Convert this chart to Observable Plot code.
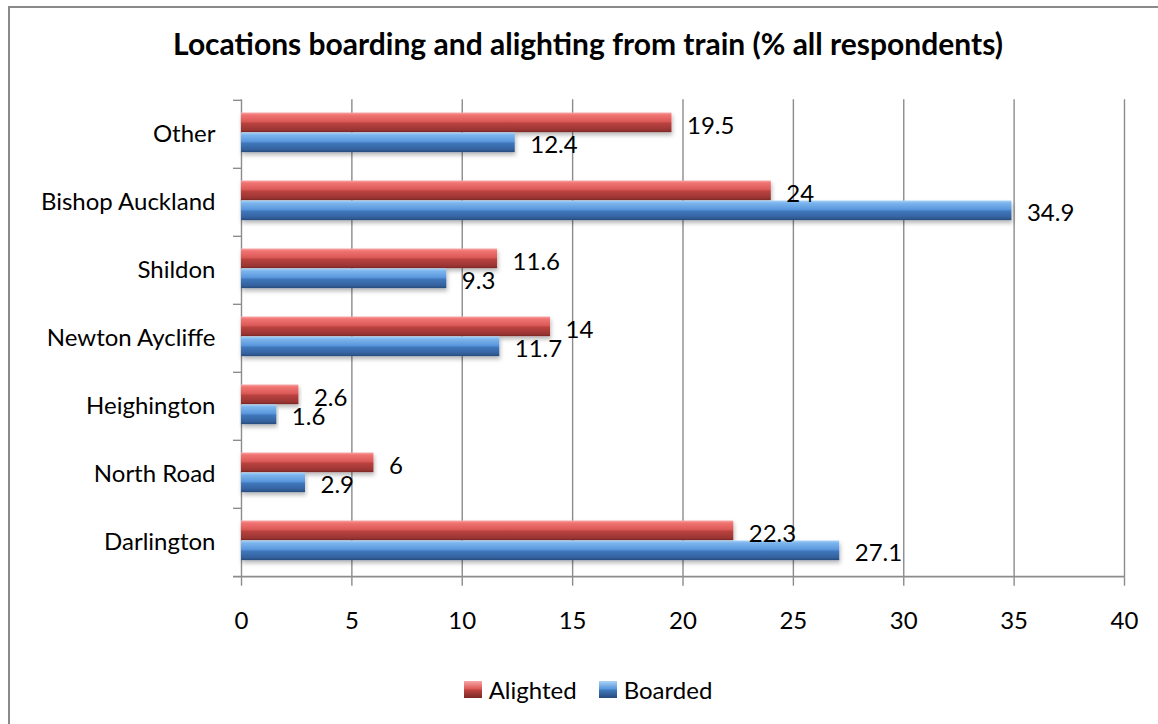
<!DOCTYPE html>
<html>
<head>
<meta charset="utf-8">
<script src="https://cdn.jsdelivr.net/npm/d3@7"></script>
<script src="https://cdn.jsdelivr.net/npm/@observablehq/plot@0.6"></script>
<style>
  body { margin: 0; background: #fff; font-family: Lato, "Open Sans", sans-serif; }
  #frame { position: absolute; left: 8px; top: 6px; width: 1160px; height: 740px; border: 2px solid #8a8a8a; box-sizing: border-box; }
  #title { position: absolute; left: 8px; width: 1160px; top: 25px; text-align: center; font: bold 30px Lato, sans-serif; color: #000; white-space: nowrap; }
  #chart { position: absolute; left: 0; top: 80px; }
  #legend { position: absolute; left: 8px; width: 1160px; top: 674px; text-align: center; font: 24px Lato, sans-serif; color: #000; }
  .item { display: inline-flex; align-items: center; margin: 0 11px; }
  .sw { width: 18px; height: 17px; margin-right: 7px; display: inline-block; }
</style>
</head>
<body>
<div id="frame"></div>
<div id="title">Locations boarding and alighting from train (% all respondents)</div>
<div id="chart"></div>
<div id="legend"></div>
<script>
const categories = ["Other", "Bishop Auckland", "Shildon", "Newton Aycliffe", "Heighington", "North Road", "Darlington"];
const alighted = [19.5, 24, 11.6, 14, 2.6, 6, 22.3];
const boarded = [12.4, 34.9, 9.3, 11.7, 1.6, 2.9, 27.1];
const seriesNames = ["Alighted", "Boarded"];
const xTicks = [0, 5, 10, 15, 20, 25, 30, 35, 40];

const rows = categories.map((c, i) => ({category: c, alighted: alighted[i], boarded: boarded[i]}));

const W = 1158, H = 570, mt = 19.3, mb = 72.3, ml = 241, mr = 34;
const step = (H - mt - mb) / categories.length;
const grid = "#8c8c8c";
const fs = 24;

const svg = Plot.plot({
  width: W,
  height: H,
  marginTop: mt,
  marginBottom: mb,
  marginLeft: ml,
  marginRight: mr,
  style: {fontFamily: "Lato, sans-serif", fontSize: fs + "px", color: "#000", background: "transparent", overflow: "visible"},
  x: {domain: [0, 40]},
  y: {domain: categories, padding: 0},
  marks: [
    Plot.ruleX(xTicks.filter(t => t > 0), {stroke: grid, strokeWidth: 1.4}),
    Plot.axisX({ticks: xTicks, tickSize: 8, tickPadding: 26, stroke: grid, strokeWidth: 1.4, fill: "#000", fontSize: fs, tickFormat: d => String(d), label: null}),
    Plot.axisY({tickSize: 0, tickPadding: 26, fill: "#000", fontSize: fs, label: null}),
    Plot.ruleX([0], {stroke: grid, strokeWidth: 1.4}),
    Plot.ruleY(categories, {y: d => d, x1: 0, x2: 0, dy: -step / 2, insetLeft: -8, stroke: grid, strokeWidth: 1.4}),
    Plot.ruleY([categories[categories.length - 1]], {y: d => d, x1: 0, x2: 40, dy: step / 2, insetLeft: -8, stroke: grid, strokeWidth: 1.6}),
    Plot.barX(rows, {y: "category", x: "alighted", fill: "url(#gradRed)", insetTop: 12.5, insetBottom: step - 32.5}),
    Plot.barX(rows, {y: "category", x: "boarded", fill: "url(#gradBlue)", insetTop: 32.5, insetBottom: step - 52.5}),
    Plot.text(rows, {y: "category", x: "alighted", text: d => String(d.alighted), dx: 15, dy: -8, textAnchor: "start", fill: "#000", fontSize: fs}),
    Plot.text(rows, {y: "category", x: "boarded", text: d => String(d.boarded), dx: 15, dy: 11, textAnchor: "start", fill: "#000", fontSize: fs})
  ]
});

const defs = d3.select(svg).insert("defs", ":first-child");
function grad(id, stops) {
  const g = defs.append("linearGradient").attr("id", id).attr("x1", 0).attr("y1", 0).attr("x2", 0).attr("y2", 1);
  stops.forEach(([o, c]) => g.append("stop").attr("offset", o).attr("stop-color", c));
}
grad("gradRed", [["0%", "#f7a9a8"], ["12%", "#f07472"], ["45%", "#dc5a57"], ["55%", "#b9423f"], ["88%", "#9b3533"], ["100%", "#7a2826"]]);
grad("gradBlue", [["0%", "#abd3f7"], ["12%", "#7db6ee"], ["45%", "#5b97dc"], ["55%", "#3f77bc"], ["88%", "#33609b"], ["100%", "#264a7a"]]);
const f = defs.append("filter").attr("id", "shadow").attr("x", "-5%").attr("y", "-30%").attr("width", "110%").attr("height", "180%");
f.append("feDropShadow").attr("dx", 1).attr("dy", 3).attr("stdDeviation", 2).attr("flood-color", "#000").attr("flood-opacity", 0.28);
d3.select(svg).selectAll('g[aria-label="bar"] rect').attr("filter", "url(#shadow)");

document.getElementById("chart").appendChild(svg);

const legendColors = {
  Alighted: "linear-gradient(to bottom, #f7a9a8, #dc5a57 45%, #b9423f 55%, #7a2826)",
  Boarded: "linear-gradient(to bottom, #abd3f7, #5b97dc 45%, #3f77bc 55%, #264a7a)"
};
const legend = document.getElementById("legend");
seriesNames.forEach(name => {
  const item = document.createElement("span");
  item.className = "item";
  const sw = document.createElement("span");
  sw.className = "sw";
  sw.style.background = legendColors[name];
  item.appendChild(sw);
  item.appendChild(document.createTextNode(name));
  legend.appendChild(item);
});
</script>
</body>
</html>
